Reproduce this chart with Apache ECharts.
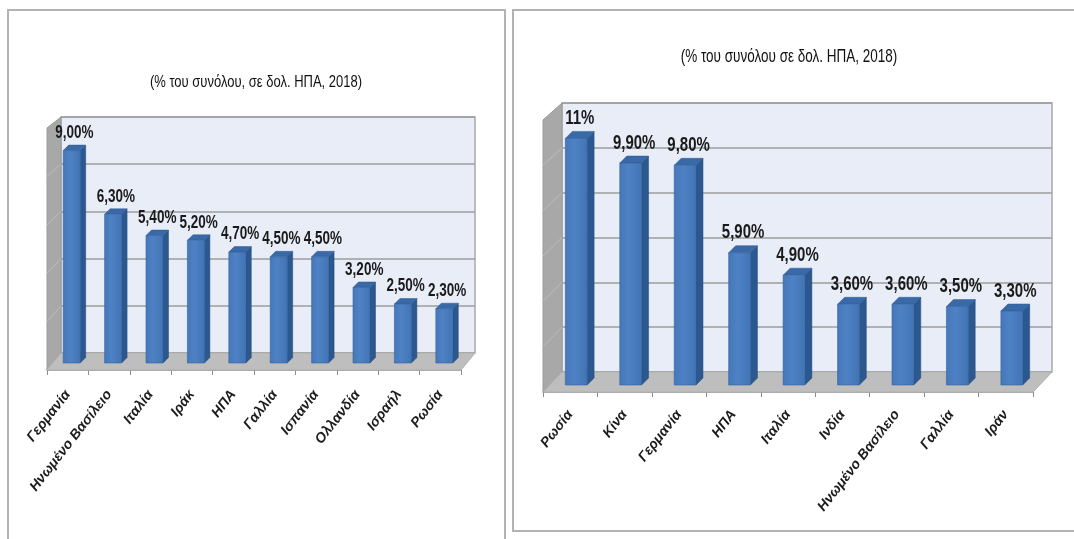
<!DOCTYPE html>
<html><head><meta charset="utf-8">
<script src="https://cdn.jsdelivr.net/npm/echarts@6/dist/echarts.min.js"></script>
<style>html,body{margin:0;padding:0;background:#fff}#c{width:1074px;height:539px}</style>
</head><body><div id="c"></div>
<script>
// ---- data ----
const leftTitle = '(% του συνόλου, σε δολ. ΗΠΑ, 2018)';
const leftCategories = ['Γερμανία', 'Ηνωμένο Βασίλειο', 'Ιταλία', 'Ιράκ', 'ΗΠΑ', 'Γαλλία', 'Ισπανία', 'Ολλανδία', 'Ισραήλ', 'Ρωσία'];
const leftValues = [9.0, 6.3, 5.4, 5.2, 4.7, 4.5, 4.5, 3.2, 2.5, 2.3];
const leftLabels = ['9,00%', '6,30%', '5,40%', '5,20%', '4,70%', '4,50%', '4,50%', '3,20%', '2,50%', '2,30%'];

const rightTitle = '(% του συνόλου σε δολ. ΗΠΑ, 2018)';
const rightCategories = ['Ρωσία', 'Κίνα', 'Γερμανία', 'ΗΠΑ', 'Ιταλία', 'Ινδία', 'Ηνωμένο Βασίλειο', 'Γαλλία', 'Ιράν'];
const rightValues = [11, 9.9, 9.8, 5.9, 4.9, 3.6, 3.6, 3.5, 3.3];
const rightLabels = ['11%', '9,90%', '9,80%', '5,90%', '4,90%', '3,60%', '3,60%', '3,50%', '3,30%'];

const leftAxisMax = 10;
const rightAxisMax = 12;
const axisInterval = 2;

// ---- layout / style ----
const FONT = "'Liberation Sans', Arial, sans-serif";
const TEXT_STRETCH = 1.3;
const panels = [
  { wall: { left: 61, top: 117, width: 414, height: 236 }, dx: 14, dy: 17, dyTop: 11, offX: 10, offY: 10, depth: 5.5, barFrac: 0.41,
    labelSize: 13.5, catSize: 14, margin: 22, titleX: 256, titleY: 82, titleSize: 13 },
  { wall: { left: 562, top: 103, width: 490, height: 269 }, dx: 19, dy: 20, dyTop: 17, offX: 13, offY: 13, depth: 7, barFrac: 0.40,
    labelSize: 15, catSize: 14, margin: 20, titleX: 789, titleY: 57, titleSize: 13.5 }
];
const sets = [
  { title: leftTitle, cats: leftCategories, vals: leftValues, labels: leftLabels, max: leftAxisMax },
  { title: rightTitle, cats: rightCategories, vals: rightValues, labels: rightLabels, max: rightAxisMax }
];

const grids = [], xAxes = [], yAxes = [], series = [], titleGraphics = [];
sets.forEach((s, k) => {
  const p = panels[k];
  const back = grids.length;
  grids.push({ left: p.wall.left, top: p.wall.top, width: p.wall.width, height: p.wall.height,
    show: true, backgroundColor: '#e8edf7', borderColor: '#a9a9a9', borderWidth: 1.5, containLabel: false });
  grids.push({ left: p.wall.left - p.dx, top: p.wall.top + p.dy, width: p.wall.width, height: p.wall.height, show: false });
  xAxes.push({ gridIndex: back, type: 'category', data: s.cats, show: false });
  xAxes.push({ gridIndex: back + 1, type: 'category', data: s.cats,
    axisLine: { lineStyle: { color: '#8c8c8c', width: 1.5 } },
    axisTick: { show: true, length: 5, lineStyle: { color: '#8c8c8c' } },
    axisLabel: { interval: 0, rotate: 52, margin: p.margin, fontFamily: FONT, fontStyle: 'italic', fontWeight: 'bold',
      fontSize: p.catSize, color: '#1c1c1c' } });
  yAxes.push({ gridIndex: back, type: 'value', min: 0, max: s.max, interval: axisInterval,
    axisLine: { show: false }, axisTick: { show: false }, axisLabel: { show: false },
    splitLine: { show: true, lineStyle: { color: '#9d9d9d', width: 1.5 } } });
  yAxes.push({ gridIndex: back + 1, type: 'value', min: 0, max: s.max, interval: axisInterval, show: false,
    splitLine: { show: false } });

  titleGraphics.push({ type: 'text', x: p.titleX, y: p.titleY, scaleY: TEXT_STRETCH, z: 10,
    style: { text: s.title, x: 0, y: 0, align: 'center', verticalAlign: 'middle',
      font: 'normal ' + p.titleSize + 'px ' + FONT, fill: '#111111' } });

  // decoration: side wall + floor
  series.push({
    type: 'custom', xAxisIndex: back, yAxisIndex: back, silent: true, z: 1,
    data: [[0, 0]],
    renderItem: (params, api) => {
      const c = params.coordSys;
      const x = c.x, y = c.y, w = c.width, h = c.height;
      const children = [];
      children.push({ type: 'polygon', shape: { points: [[x, y], [x, y + h], [x - p.dx, y + h + p.dy], [x - p.dx, y + p.dyTop]] },
        style: { fill: '#a8a8a8', stroke: '#9a9a9a', lineWidth: 1 } });
      for (let v = axisInterval; v < s.max; v += axisInterval) {
        const yy = api.coord([0, v])[1];
        const f = (yy - y) / h;
        children.push({ type: 'line', shape: { x1: x, y1: yy, x2: x - p.dx, y2: yy + p.dyTop + (p.dy - p.dyTop) * f },
          style: { stroke: '#bdbdbd', lineWidth: 1 } });
      }
      children.push({ type: 'polygon', shape: { points: [[x, y + h], [x + w, y + h], [x + w - p.dx, y + h + p.dy], [x - p.dx, y + h + p.dy]] },
        style: { fill: '#bebebe', stroke: '#b0b0b0', lineWidth: 1 } });
      return { type: 'group', children };
    }
  });

  // 3D bars
  series.push({
    type: 'custom', xAxisIndex: back, yAxisIndex: back, z: 5,
    data: s.vals.map((v, i) => [i, v]),
    encode: { x: 0, y: 1 },
    renderItem: (params, api) => {
      const i = api.value(0), v = api.value(1);
      const b = api.coord([i, 0]), t = api.coord([i, v]);
      const bw = api.size([1, 0])[0] * p.barFrac;
      const cx = b[0] - p.offX;
      const x0 = cx - bw / 2, x1 = cx + bw / 2;
      const yb = b[1] + p.offY, yt = t[1] + p.offY, d = p.depth;
      return { type: 'group', children: [
        { type: 'polygon', shape: { points: [[x1, yt], [x1 + d, yt - d], [x1 + d, yb - d], [x1, yb]] },
          style: { fill: '#2c5890', stroke: '#244a7a', lineWidth: 0.5 } },
        { type: 'polygon', shape: { points: [[x0, yt], [x0 + d, yt - d], [x1 + d, yt - d], [x1, yt]] },
          style: { fill: '#3a69a8', stroke: '#2f5b93', lineWidth: 0.5 } },
        { type: 'rect', shape: { x: x0, y: yt, width: bw, height: yb - yt },
          style: { fill: new echarts.graphic.LinearGradient(0, 0, 1, 0, [
            { offset: 0, color: '#4577b9' }, { offset: 0.4, color: '#4e82c4' }, { offset: 1, color: '#4274b5' }]),
            stroke: '#3463a0', lineWidth: 0.6 } },
        { type: 'text', x: cx + d / 2, y: yt - d - 3, scaleY: TEXT_STRETCH,
          style: { text: s.labels[i], x: 0, y: 0,
          textAlign: 'center', textVerticalAlign: 'bottom', align: 'center', verticalAlign: 'bottom',
          fontFamily: FONT, fontSize: p.labelSize, fontWeight: 'bold', fill: '#1a1a1a' } }
      ] };
    }
  });
});

const chart = echarts.init(document.getElementById('c'), null, { renderer: 'canvas' });
chart.setOption({
  animation: false,
  backgroundColor: '#ffffff',
  grid: grids,
  xAxis: xAxes,
  yAxis: yAxes,
  series: series,
  graphic: [
    { type: 'rect', z: -10, shape: { x: 8, y: 10, width: 497, height: 560 },
      style: { fill: '#ffffff', stroke: '#b3b3b3', lineWidth: 2 } },
    { type: 'rect', z: -10, shape: { x: 513, y: 10, width: 600, height: 521 },
      style: { fill: '#ffffff', stroke: '#b3b3b3', lineWidth: 2 } }
  ].concat(titleGraphics)
});
</script>
</body></html>
